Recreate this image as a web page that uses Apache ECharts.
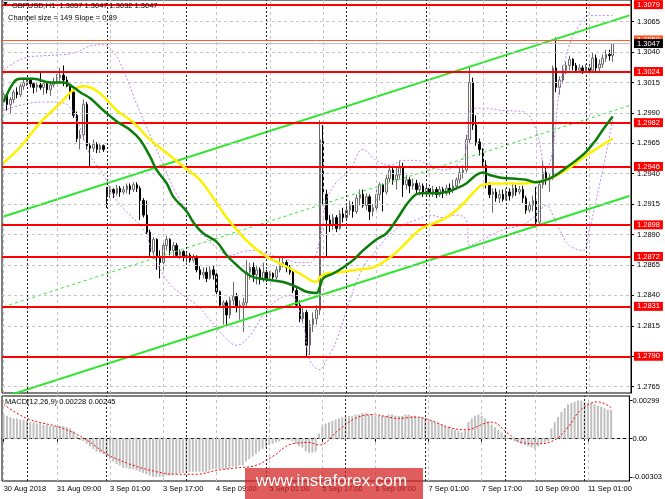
<!DOCTYPE html>
<html><head><meta charset="utf-8">
<script src="https://cdn.jsdelivr.net/npm/echarts@6/dist/echarts.min.js"></script>
<style>html,body{margin:0;padding:0;background:#fff}#c{width:665px;height:499px}</style>
</head><body><div id="c"></div>
<script>
// ---------- DATA ----------
const sessions = [['30 Aug',17,23],['31 Aug',0,23],['3 Sep',0,23],['4 Sep',0,23],['5 Sep',0,23],['6 Sep',0,23],['7 Sep',0,23],['10 Sep',0,23],['11 Sep',0,8]];
const tickIdx  = [0,16,32,48,64,80,96,112,128,144,160,176];
const tickText = ['30 Aug 2018','31 Aug 09:00','3 Sep 01:00','3 Sep 17:00','4 Sep 09:00','5 Sep 01:00','5 Sep 17:00','6 Sep 09:00','7 Sep 01:00','7 Sep 17:00','10 Sep 09:00','11 Sep 01:00'];
const dayIdx = [7,31,55,79,103,127,151,175];
const priceTicks = [1.3065,1.3040,1.3015,1.2990,1.2965,1.2940,1.2915,1.2890,1.2865,1.2840,1.2815,1.2790,1.2765];
const macdTicks = [0.00299,0,-0.00303];
const redLevels = [1.3079,1.3024,1.2982,1.2946,1.2898,1.2872,1.2831,1.2790];
const bidPrice = 1.3047;
const askPrice = 1.3050;

const opens = [1.3001,1.3005,1.2997,1.3001,1.3007,1.3005,1.3012,1.3015,1.3017,1.3014,
1.3011,1.3013,1.3011,1.3014,1.3009,1.3013,1.3015,1.3019,1.3021,1.3017,
1.3012,1.3007,1.2988,1.2969,1.2972,1.2997,1.2963,1.2961,1.2964,1.2960,
1.2963,1.2927,1.2923,1.2927,1.2924,1.2928,1.2925,1.2927,1.2930,1.2927,
1.2931,1.2928,1.2918,1.2906,1.2892,1.2876,1.2886,1.2872,1.2867,1.2881,
1.2886,1.2877,1.2881,1.2873,1.2876,1.2871,1.2873,1.2869,1.2872,1.2861,
1.2857,1.2859,1.2854,1.2861,1.2857,1.2843,1.2832,1.2834,1.2824,1.2836,
1.2839,1.2830,1.2832,1.2834,1.2859,1.2863,1.2857,1.2861,1.2854,1.2859,
1.2854,1.2858,1.2855,1.2861,1.2866,1.2867,1.2863,1.2859,1.2844,1.2832,
1.2821,1.2826,1.2799,1.2816,1.2821,1.2828,1.2968,1.2923,1.2902,1.2898,
1.2904,1.2895,1.2907,1.2904,1.2910,1.2914,1.2909,1.2920,1.2923,1.2914,
1.2921,1.2909,1.2912,1.2923,1.2931,1.2925,1.2936,1.2943,1.2935,1.2939,
1.2945,1.2931,1.2935,1.2930,1.2932,1.2927,1.2930,1.2925,1.2928,1.2924,
1.2927,1.2923,1.2927,1.2924,1.2928,1.2926,1.2930,1.2935,1.2941,1.2943,
1.2968,1.3015,1.2980,1.2966,1.2960,1.2947,1.2931,1.2923,1.2925,1.2920,
1.2923,1.2919,1.2925,1.2922,1.2928,1.2925,1.2927,1.2920,1.2910,1.2914,
1.2918,1.2900,1.2931,1.2941,1.2935,1.2936,1.3027,1.3011,1.3017,1.3025,
1.3029,1.3034,1.3029,1.3025,1.3027,1.3024,1.3027,1.3025,1.3035,1.3027,
1.3030,1.3035,1.3038,1.3037];
const closes = [1.3005,1.2997,1.3001,1.3007,1.3005,1.3012,1.3015,1.3017,1.3014,1.3011,
1.3013,1.3011,1.3014,1.3009,1.3013,1.3015,1.3019,1.3021,1.3017,1.3012,
1.3007,1.2988,1.2969,1.2972,1.2997,1.2963,1.2961,1.2964,1.2960,1.2963,
1.2960,1.2923,1.2927,1.2924,1.2928,1.2925,1.2927,1.2930,1.2927,1.2931,
1.2928,1.2918,1.2906,1.2892,1.2876,1.2886,1.2872,1.2867,1.2881,1.2886,
1.2877,1.2881,1.2873,1.2876,1.2871,1.2873,1.2869,1.2872,1.2861,1.2857,
1.2859,1.2854,1.2861,1.2857,1.2843,1.2832,1.2834,1.2824,1.2836,1.2839,
1.2830,1.2832,1.2834,1.2859,1.2863,1.2857,1.2861,1.2854,1.2859,1.2854,
1.2858,1.2855,1.2861,1.2866,1.2867,1.2863,1.2859,1.2844,1.2832,1.2821,
1.2826,1.2799,1.2816,1.2821,1.2828,1.2968,1.2923,1.2902,1.2898,1.2904,
1.2895,1.2907,1.2904,1.2910,1.2914,1.2909,1.2920,1.2923,1.2914,1.2921,
1.2909,1.2912,1.2923,1.2931,1.2925,1.2936,1.2943,1.2935,1.2939,1.2945,
1.2931,1.2935,1.2930,1.2932,1.2927,1.2930,1.2925,1.2928,1.2924,1.2927,
1.2923,1.2927,1.2924,1.2928,1.2926,1.2930,1.2935,1.2941,1.2943,1.2968,
1.3015,1.2980,1.2966,1.2960,1.2947,1.2931,1.2923,1.2925,1.2920,1.2923,
1.2919,1.2925,1.2922,1.2928,1.2925,1.2927,1.2920,1.2910,1.2914,1.2918,
1.2900,1.2931,1.2941,1.2935,1.2936,1.3027,1.3011,1.3017,1.3025,1.3029,
1.3034,1.3029,1.3025,1.3027,1.3024,1.3027,1.3025,1.3035,1.3027,1.3030,
1.3035,1.3038,1.3037,1.3047];
const lows = [1.2996,1.2992,1.2989,1.2998,1.3002,1.3003,1.3009,1.3012,1.3011,1.3006,
1.3007,1.3009,1.3005,1.3006,1.3004,1.3011,1.3014,1.3015,1.3012,1.3011,
1.3001,1.2986,1.2966,1.2960,1.2968,1.2960,1.2946,1.2958,1.2957,1.2957,
1.2958,1.2912,1.2920,1.2920,1.2922,1.2921,1.2923,1.2924,1.2923,1.2925,
1.2925,1.2902,1.2904,1.2890,1.2872,1.2871,1.2861,1.2854,1.2861,1.2877,
1.2873,1.2872,1.2871,1.2870,1.2868,1.2867,1.2867,1.2867,1.2859,1.2853,
1.2854,1.2851,1.2853,1.2853,1.2840,1.2830,1.2816,1.2814,1.2821,1.2832,
1.2826,1.2820,1.2810,1.2830,1.2853,1.2851,1.2849,1.2849,1.2851,1.2851,
1.2852,1.2853,1.2853,1.2859,1.2863,1.2859,1.2857,1.2842,1.2830,1.2818,
1.2817,1.2789,1.2791,1.2810,1.2816,1.2824,1.2914,1.2871,1.2892,1.2894,
1.2892,1.2894,1.2900,1.2902,1.2906,1.2904,1.2907,1.2914,1.2912,1.2910,
1.2902,1.2905,1.2909,1.2918,1.2909,1.2923,1.2933,1.2931,1.2927,1.2936,
1.2921,1.2927,1.2924,1.2927,1.2923,1.2922,1.2921,1.2922,1.2921,1.2921,
1.2920,1.2921,1.2920,1.2922,1.2923,1.2924,1.2927,1.2932,1.2936,1.2941,
1.2965,1.2976,1.2963,1.2955,1.2945,1.2928,1.2920,1.2908,1.2917,1.2916,
1.2917,1.2918,1.2918,1.2920,1.2922,1.2923,1.2916,1.2907,1.2908,1.2909,
1.2896,1.2898,1.2928,1.2931,1.2925,1.2935,1.3007,1.3005,1.3014,1.3022,
1.3025,1.3025,1.3023,1.3023,1.3022,1.3023,1.3022,1.3024,1.3024,1.3023,
1.3027,1.3032,1.3033,1.3032];
const highs = [1.3007,1.3006,1.3003,1.3009,1.3011,1.3014,1.3019,1.3019,1.3019,1.3015,
1.3015,1.3024,1.3015,1.3015,1.3015,1.3019,1.3022,1.3027,1.3029,1.3020,
1.3014,1.3009,1.2991,1.2976,1.3001,1.2999,1.2965,1.2968,1.2966,1.2965,
1.2964,1.2929,1.2930,1.2928,1.2931,1.2930,1.2930,1.2932,1.2932,1.2933,
1.2933,1.2930,1.2920,1.2918,1.2894,1.2888,1.2887,1.2877,1.2883,1.2889,
1.2887,1.2884,1.2883,1.2878,1.2877,1.2876,1.2875,1.2874,1.2873,1.2864,
1.2863,1.2863,1.2864,1.2865,1.2861,1.2844,1.2836,1.2836,1.2839,1.2851,
1.2842,1.2836,1.2838,1.2869,1.2867,1.2867,1.2864,1.2863,1.2867,1.2861,
1.2860,1.2859,1.2864,1.2871,1.2871,1.2869,1.2865,1.2861,1.2846,1.2836,
1.2830,1.2828,1.2820,1.2826,1.2832,1.2984,1.2980,1.2927,1.2906,1.2907,
1.2906,1.2910,1.2912,1.2914,1.2918,1.2917,1.2923,1.2927,1.2927,1.2924,
1.2923,1.2915,1.2927,1.2933,1.2932,1.2939,1.2947,1.2946,1.2945,1.2951,
1.2949,1.2939,1.2937,1.2936,1.2935,1.2933,1.2932,1.2932,1.2931,1.2930,
1.2929,1.2930,1.2929,1.2931,1.2932,1.2935,1.2937,1.2945,1.2947,1.2972,
1.3028,1.3019,1.2988,1.2969,1.2961,1.2951,1.2933,1.2928,1.2928,1.2927,
1.2927,1.2928,1.2928,1.2932,1.2931,1.2930,1.2930,1.2922,1.2917,1.2922,
1.2929,1.2933,1.2951,1.2945,1.2940,1.3029,1.3052,1.3020,1.3029,1.3032,
1.3037,1.3035,1.3031,1.3030,1.3029,1.3030,1.3030,1.3040,1.3038,1.3034,
1.3038,1.3042,1.3042,1.3047];

// moving averages / bands: [bar index, price]
const maGreen = [[0,1.2999],[3,1.3015],[5,1.3018],[9,1.3018],[14,1.3015],[18,1.3015],[21,1.3011],[23,1.3007],[26,1.3002],[30,1.2992],[34,1.2983],[38,1.2976],[41,1.2968],[44,1.2954],[46,1.2943],[49,1.2932],[51,1.2921],[55,1.2909],[57,1.2900],[60,1.2891],[64,1.2884],[67,1.2873],[70,1.2865],[73,1.2858],[75,1.2855],[79,1.2853],[84,1.2851],[88,1.2847],[91,1.2843],[94,1.2842],[95,1.2847],[96,1.2854],[99,1.2858],[102,1.2863],[105,1.2869],[108,1.2877],[112,1.2886],[115,1.2891],[118,1.2902],[122,1.2918],[125,1.2924],[129,1.2924],[133,1.2925],[136,1.2928],[139,1.2932],[142,1.2939],[144,1.2941],[146,1.2939],[149,1.2937],[153,1.2936],[157,1.2935],[160,1.2933],[163,1.2935],[166,1.2939],[169,1.2945],[172,1.2951],[175,1.2958],[178,1.2968],[180,1.2976],[183,1.2987]];
const maYellow = [[0,1.2949],[5,1.2962],[11,1.2982],[17,1.2998],[21,1.3009],[24,1.3012],[29,1.3006],[34,1.2992],[39,1.2982],[44,1.2968],[49,1.2957],[54,1.2946],[59,1.2935],[63,1.2920],[67,1.2904],[71,1.2891],[75,1.2880],[79,1.2872],[84,1.2865],[89,1.2858],[94,1.2851],[95,1.2855],[97,1.2858],[101,1.2859],[106,1.2861],[111,1.2863],[115,1.2869],[119,1.2878],[125,1.2894],[129,1.2899],[133,1.2904],[136,1.2910],[139,1.2918],[142,1.2927],[144,1.2931],[149,1.2932],[154,1.2932],[160,1.2933],[164,1.2936],[169,1.2943],[174,1.2953],[179,1.2962],[183,1.2969]];
const bandUpper = [[0,1.3025],[6,1.3035],[12,1.3037],[18,1.3038],[22,1.3040],[26,1.3045],[30,1.3046],[33,1.3040],[36,1.3025],[40,1.2997],[44,1.2972],[48,1.2947],[52,1.2923],[56,1.2906],[60,1.2890],[64,1.2879],[68,1.2873],[72,1.2876],[76,1.2877],[80,1.2873],[84,1.2871],[88,1.2867],[92,1.2867],[95,1.2886],[97,1.2918],[100,1.2933],[104,1.2943],[108,1.2960],[112,1.2951],[116,1.2947],[120,1.2951],[124,1.2951],[128,1.2947],[132,1.2943],[136,1.2947],[139,1.2960],[140,1.2992],[144,1.2994],[150,1.2992],[156,1.2991],[160,1.2976],[163,1.2943],[165,1.2960],[167,1.3009],[170,1.3046],[173,1.3062],[176,1.3070],[180,1.3070],[183,1.3070]];
const bandLower = [[0,1.2992],[6,1.2997],[12,1.2999],[18,1.2998],[22,1.2984],[26,1.2955],[30,1.2939],[34,1.2918],[38,1.2906],[42,1.2894],[46,1.2867],[50,1.2849],[54,1.2840],[58,1.2832],[62,1.2820],[66,1.2807],[70,1.2799],[74,1.2807],[78,1.2824],[82,1.2836],[86,1.2840],[90,1.2816],[92,1.2787],[95,1.2779],[97,1.2787],[100,1.2803],[104,1.2836],[108,1.2863],[112,1.2877],[116,1.2890],[120,1.2898],[124,1.2902],[128,1.2906],[132,1.2904],[136,1.2906],[139,1.2902],[140,1.2881],[144,1.2886],[150,1.2894],[156,1.2898],[160,1.2906],[163,1.2914],[165,1.2906],[167,1.2894],[170,1.2881],[174,1.2877],[176,1.2894],[178,1.2918],[180,1.2943],[183,1.2984]];
const channelUpper = [[0,1.29049],[188,1.30702]];
const channelMid   = [[0,1.28307],[188,1.29960]];
const channelLower = [[0,1.27565],[188,1.29217]];

const macdHist = [0.0019,0.0018,0.0017,0.0016,0.0016,0.0015,0.0015,0.0014,0.0013,0.0013,
0.0012,0.0012,0.0011,0.0011,0.0010,0.0010,0.0010,0.0010,0.0010,0.0009,
0.0008,0.0006,0.0002,-0.0001,-0.0002,-0.0004,-0.0006,-0.0008,-0.0010,-0.0011,
-0.0012,-0.0014,-0.0016,-0.0018,-0.0020,-0.0021,-0.0023,-0.0023,-0.0024,-0.0024,
-0.0025,-0.0026,-0.0027,-0.0028,-0.0029,-0.0030,-0.0030,-0.0030,-0.0030,-0.0029,
-0.0029,-0.0028,-0.0028,-0.0027,-0.0027,-0.0027,-0.0026,-0.0026,-0.0026,-0.0026,
-0.0026,-0.0026,-0.0025,-0.0024,-0.0024,-0.0024,-0.0024,-0.0024,-0.0023,-0.0022,
-0.0022,-0.0021,-0.0021,-0.0018,-0.0016,-0.0014,-0.0012,-0.0010,-0.0008,-0.0007,
-0.0005,-0.0004,-0.0003,-0.0002,-0.0001,-0.0001,-0.0001,-0.0002,-0.0004,-0.0006,
-0.0007,-0.0010,-0.0011,-0.0011,-0.0010,0.0004,0.0010,0.0012,0.0013,0.0014,
0.0015,0.0016,0.0017,0.0017,0.0018,0.0018,0.0019,0.0019,0.0020,0.0020,
0.0019,0.0019,0.0018,0.0018,0.0018,0.0018,0.0019,0.0019,0.0018,0.0018,
0.0018,0.0019,0.0019,0.0018,0.0018,0.0017,0.0017,0.0016,0.0015,0.0014,
0.0013,0.0012,0.0011,0.0010,0.0009,0.0008,0.0007,0.0006,0.0005,0.0006,
0.0013,0.0016,0.0018,0.0019,0.0018,0.0016,0.0014,0.0011,0.0009,0.0007,
0.0005,0.0003,0.0001,-0.0001,-0.0002,-0.0003,-0.0004,-0.0005,-0.0006,-0.0007,
-0.0008,-0.0006,-0.0004,-0.0003,-0.0002,0.0008,0.0013,0.0017,0.0021,0.0024,
0.0027,0.0028,0.0029,0.0030,0.0030,0.0029,0.0028,0.0028,0.0027,0.0026,
0.0025,0.0024,0.0023,0.00228];
const macdSignal = [[0,0.0027],[7,0.0016],[18,0.0008],[25,-0.0001],[31,-0.0012],[38,-0.0020],[46,-0.0026],[52,-0.0028],[58,-0.0028],[64,-0.0025],[70,-0.0023],[76,-0.0021],[81,-0.0014],[87,-0.0004],[92,-0.0003],[95,-0.0005],[101,0.0007],[106,0.0016],[111,0.0019],[119,0.0016],[124,0.0017],[128,0.0015],[134,0.0009],[139,0.0007],[147,0.0013],[152,0.0004],[156,-0.0003],[161,-0.0004],[166,-0.0001],[170,0.0009],[174,0.0023],[179,0.0029],[183,0.00245]];

// ---------- BUILD ----------
const categories = [];
sessions.forEach(([d,a,b]) => { for (let h=a; h<=b; h++) categories.push(d+' '+String(h).padStart(2,'0')+':00'); });
for (let k=0; k<5; k++) categories.push('shift'+k);
const labelMap = {};
tickIdx.forEach((i,k) => { labelMap[categories[i]] = tickText[k]; });
const isTick = (idx) => tickIdx.indexOf(idx) >= 0;
const candleData = opens.map((o,i) => [o, closes[i], lows[i], highs[i]]);

const FONT = 'Liberation Sans, Arial, sans-serif';
const gridDash = {color:'#c4c4c4', type:[3,3], width:1};
const sepDash = {color:'#202020', type:[2,2], width:1};
const vLines = () => [
  ...tickIdx.map(i => ({xAxis:i, lineStyle:gridDash})),
  ...dayIdx.map(i => ({xAxis:i, lineStyle:sepDash}))
];
const lineBase = {type:'line', symbol:'none', animation:false, silent:true};
const mlBase = {silent:true, symbol:['none','none'], animation:false, precision:6};
const boxLabel = (bg) => ({show:true, position:'end', distance:3, formatter:(p)=>Number(p.value).toFixed(4), color:'#fff',
  backgroundColor:bg, padding:[1,3,0,3], fontSize:7.5, fontFamily:FONT});

const chart = echarts.init(document.getElementById('c'), null, {renderer:'canvas'});
chart.setOption({
  animation:false,
  backgroundColor:'#ffffff',
  grid:[
    {left:2, top:0, width:629, height:393, show:true, borderColor:'#000', borderWidth:1},
    {left:2, top:396, width:629, height:85, show:true, borderColor:'#000', borderWidth:1}
  ],
  xAxis:[
    {gridIndex:0, type:'category', data:categories, boundaryGap:true,
     axisLine:{show:false}, axisTick:{show:false}, axisLabel:{show:false}, splitLine:{show:false}},
    {gridIndex:1, type:'category', data:categories, boundaryGap:true,
     axisLine:{show:true, lineStyle:{color:'#000'}},
     axisTick:{show:true, alignWithLabel:true, interval:(idx)=>isTick(idx), length:3, lineStyle:{color:'#000'}},
     axisLabel:{interval:(idx)=>isTick(idx), formatter:(v)=>labelMap[v]||'', align:'left',
       fontSize:7.5, fontFamily:FONT, color:'#000', margin:4},
     splitLine:{show:false}}
  ],
  yAxis:[
    {gridIndex:0, type:'value', position:'right', min:1.27598, max:1.30828, scale:true,
     axisLine:{show:true, lineStyle:{color:'#000'}},
     axisTick:{show:true, length:3, customValues:priceTicks, lineStyle:{color:'#000'}},
     axisLabel:{customValues:priceTicks, formatter:(v)=>v.toFixed(4), fontSize:7.5, fontFamily:FONT, color:'#000', margin:6},
     splitLine:{show:false}},
    {gridIndex:1, type:'value', position:'right', min:-0.00333, max:0.00336,
     axisLine:{show:true, lineStyle:{color:'#000'}},
     axisTick:{show:true, length:3, customValues:macdTicks, lineStyle:{color:'#000'}},
     axisLabel:{customValues:macdTicks, formatter:(v)=> Math.abs(v)<1e-9 ? '0.00' : v.toFixed(5), fontSize:7.5, fontFamily:FONT, color:'#000', margin:3},
     splitLine:{show:false}}
  ],
  series:[
    Object.assign({}, lineBase, {xAxisIndex:0, yAxisIndex:0, data:[], z:1,
      markLine:Object.assign({}, mlBase, {label:{show:false},
        data:[...priceTicks.map(v=>({yAxis:v, lineStyle:gridDash})), ...vLines()]})}),
    Object.assign({}, lineBase, {xAxisIndex:1, yAxisIndex:1, data:[], z:1,
      markLine:Object.assign({}, mlBase, {label:{show:false},
        data:[{yAxis:0, lineStyle:gridDash}, ...vLines()]})}),
    {type:'candlestick', xAxisIndex:0, yAxisIndex:0, data:candleData, barWidth:2, z:3, animation:false, silent:true,
     itemStyle:{color:'#ffffff', color0:'#000000', borderColor:'#6a6a6a', borderColor0:'#000000', borderWidth:1}},
    Object.assign({}, lineBase, {xAxisIndex:0, yAxisIndex:0, data:bandUpper, smooth:0.4, z:4,
      lineStyle:{color:'#c384ec', width:1, type:[2,2]}}),
    Object.assign({}, lineBase, {xAxisIndex:0, yAxisIndex:0, data:bandLower, smooth:0.4, z:4,
      lineStyle:{color:'#c384ec', width:1, type:[2,2]}}),
    Object.assign({}, lineBase, {xAxisIndex:0, yAxisIndex:0, data:channelUpper, z:4, lineStyle:{color:'#2fe62f', width:2}}),
    Object.assign({}, lineBase, {xAxisIndex:0, yAxisIndex:0, data:channelMid, z:4, lineStyle:{color:'#2fe62f', width:1, type:[3,3]}}),
    Object.assign({}, lineBase, {xAxisIndex:0, yAxisIndex:0, data:channelLower, z:4, lineStyle:{color:'#2fe62f', width:2}}),
    Object.assign({}, lineBase, {xAxisIndex:0, yAxisIndex:0, data:maYellow, smooth:0.4, z:5, lineStyle:{color:'#fff000', width:2.5}}),
    Object.assign({}, lineBase, {xAxisIndex:0, yAxisIndex:0, data:maGreen, smooth:0.4, z:5, lineStyle:{color:'#0a7d0a', width:2.5}}),
    Object.assign({}, lineBase, {xAxisIndex:0, yAxisIndex:0, data:[], z:6,
      markLine:Object.assign({}, mlBase, {lineStyle:{color:'#ff0000', width:2, type:'solid'},
        label:boxLabel('#ff0000'), data:redLevels.map(v=>({yAxis:v}))})}),
    Object.assign({}, lineBase, {xAxisIndex:0, yAxisIndex:0, data:[], z:6,
      markLine:Object.assign({}, mlBase, {lineStyle:{color:'#ff5a28', width:1, type:'solid'},
        label:boxLabel('#ff5a28'), data:[{yAxis:askPrice}]})}),
    Object.assign({}, lineBase, {xAxisIndex:0, yAxisIndex:0, data:[], z:7,
      markLine:Object.assign({}, mlBase, {lineStyle:{color:'#c0c0c0', width:1, type:'solid'},
        label:boxLabel('#000000'), data:[{yAxis:bidPrice}]})}),
    {type:'bar', xAxisIndex:1, yAxisIndex:1, data:macdHist, barWidth:2, z:2, animation:false, silent:true,
     itemStyle:{color:'#c0c0c0'}},
    Object.assign({}, lineBase, {xAxisIndex:1, yAxisIndex:1, data:macdSignal, smooth:0.4, z:3,
      lineStyle:{color:'#ff0000', width:1, type:[2,2]}})
  ],
  graphic:[
    {type:'text', left:2, top:1, z:20, style:{text:'▼', font:'7px '+FONT, fill:'#000'}},
    {type:'text', left:12, top:2, z:20, style:{text:'GBPUSD,H1  1.3037 1.3047 1.3032 1.3047', font:'7.5px '+FONT, fill:'#000'}},
    {type:'text', left:8, top:14, z:20, style:{text:'Channel size = 149 Slope = 0.89', font:'7.5px '+FONT, fill:'#000'}},
    {type:'text', left:5, top:398, z:20, style:{text:'MACD(12,26,9) 0.00228 0.00245', font:'7.5px '+FONT, fill:'#000'}},
    {type:'rect', left:245, top:468, z:30, shape:{width:178, height:31}, style:{fill:'rgba(212,36,36,0.74)'}},
    {type:'text', left:256, top:473, z:31, style:{text:'www.instaforex.com', font:'17px '+FONT, fill:'#ffffff'}}
  ]
});
</script></body></html>
